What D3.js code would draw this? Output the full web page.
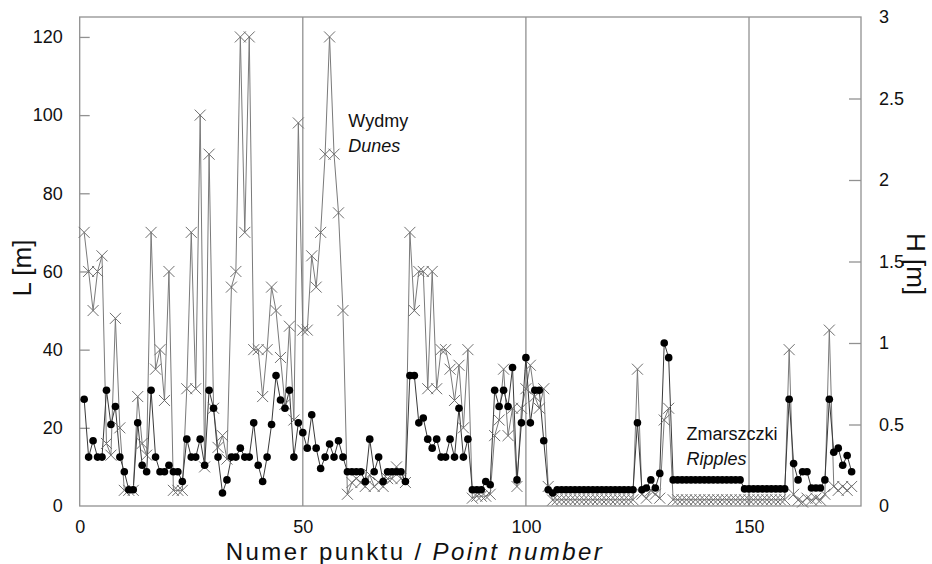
<!DOCTYPE html>
<html>
<head>
<meta charset="utf-8">
<script src="https://cdn.jsdelivr.net/npm/d3@7"></script>
<style>
  body { margin: 0; background: #fff; }
  svg { font-family: "Liberation Sans", Arial, sans-serif; }
</style>
</head>
<body>
<svg id="chart" width="932" height="564"></svg>
<script>
// point numbers 1..173, L [m] (crosses, left axis) and H [m] (dots, right axis)
var L_values = [
  70, 60, 50, 60, 64, 16, 13, 48, 20, 4,
  4, 4, 28, 16, 13, 70, 35, 40, 27, 60,
  4, 4, 4, 30, 70, 30, 100, 10, 90, 25,
  15, 18, 12, 56, 60, 120, 70, 120, 40, 40,
  28, 40, 56, 50, 38, 26, 46, 22, 98, 45,
  45, 64, 56, 70, 90, 120, 90, 75, 50, 3,
  6, 7, 6, 5, 8, 5, 6, 5, 7, 7,
  10, 7, 6, 70, 50, 60, 60, 30, 60, 30,
  40, 40, 35, 27, 36, 20, 40, 2, 2.5, 2.5,
  2.5, 3, 18, 22, 35, 18, 25, 5, 25, 30,
  36, 28, 25, 30, 5, 1.5, 1.6, 1.6, 1.6, 1.6,
  1.6, 1.6, 1.6, 1.6, 1.6, 1.6, 1.6, 1.6, 1.6, 1.6,
  1.6, 1.6, 1.6, 1.6, 35, 3, 2, 4, 3, 2,
  22, 25, 1.6, 1.6, 1.6, 1.6, 1.6, 1.6, 1.6, 1.6,
  1.6, 1.6, 1.6, 1.6, 1.6, 1.6, 1.6, 1.6, 1.6, 1.6,
  1.6, 1.6, 1.6, 1.6, 1.6, 1.6, 1.6, 1.6, 40, 3,
  1.5, 1, 2, 1.5, 2, 1.5, 3, 45, 5, 4,
  5, 4, 5
];

var H_values = [
  0.655, 0.30, 0.40, 0.30, 0.30, 0.71, 0.50, 0.61, 0.30, 0.21,
  0.10, 0.10, 0.51, 0.25, 0.21, 0.71, 0.30, 0.21, 0.21, 0.25,
  0.21, 0.21, 0.15, 0.41, 0.30, 0.30, 0.41, 0.25, 0.71, 0.60,
  0.30, 0.08, 0.16, 0.30, 0.30, 0.355, 0.30, 0.30, 0.51, 0.25,
  0.15, 0.30, 0.50, 0.80, 0.65, 0.60, 0.71, 0.30, 0.51, 0.45,
  0.355, 0.56, 0.355, 0.23, 0.30, 0.38, 0.30, 0.40, 0.30, 0.21,
  0.21, 0.21, 0.21, 0.15, 0.41, 0.21, 0.30, 0.15, 0.21, 0.21,
  0.21, 0.21, 0.15, 0.80, 0.80, 0.51, 0.54, 0.41, 0.355, 0.41,
  0.30, 0.30, 0.41, 0.30, 0.60, 0.30, 0.41, 0.10, 0.10, 0.10,
  0.15, 0.13, 0.71, 0.61, 0.71, 0.61, 0.85, 0.16, 0.51, 0.91,
  0.51, 0.71, 0.71, 0.40, 0.10, 0.08, 0.10, 0.10, 0.10, 0.10,
  0.10, 0.10, 0.10, 0.10, 0.10, 0.10, 0.10, 0.10, 0.10, 0.10,
  0.10, 0.10, 0.10, 0.10, 0.51, 0.10, 0.11, 0.16, 0.11, 0.20,
  1.00, 0.91, 0.16, 0.16, 0.16, 0.16, 0.16, 0.16, 0.16, 0.16,
  0.16, 0.16, 0.16, 0.16, 0.16, 0.16, 0.16, 0.16, 0.105, 0.105,
  0.105, 0.105, 0.105, 0.105, 0.105, 0.105, 0.105, 0.105, 0.655, 0.26,
  0.16, 0.21, 0.21, 0.11, 0.11, 0.11, 0.16, 0.655, 0.33, 0.355,
  0.25, 0.31, 0.21
];

var point_numbers = d3.range(1, L_values.length + 1);

var x_ticks = [0, 50, 100, 150];
var divider_lines = [50, 100, 150];
var L_ticks = [0, 20, 40, 60, 80, 100, 120];
var H_ticks = [0, 0.5, 1, 1.5, 2, 2.5, 3];
var H_tick_labels = ["0", "0.5", "1", "1.5", "2", "2.5", "3"];

var labels = [
  {point: 60.2, level: 97, lines: ["Wydmy", "Dunes"]},
  {point: 136, level: 17, lines: ["Zmarszczki", "Ripples"]}
];

var svg = d3.select("#chart");
const plot = {left: 79.7, right: 861, top: 17, bottom: 506};

var xScale = d3.scaleLinear().domain([0, 175.1]).range([plot.left, plot.right]);
var yL = d3.scaleLinear().domain([0, 125.1]).range([plot.bottom, plot.top]);
var yH = d3.scaleLinear().domain([0, 3]).range([plot.bottom, plot.top]);

var frameColor = "#919191";

// frame
svg.append("rect")
    .attr("x", plot.left).attr("y", plot.top)
    .attr("width", plot.right - plot.left).attr("height", plot.bottom - plot.top)
    .attr("fill", "none").attr("stroke", frameColor).attr("stroke-width", 1.3);

// divider lines
svg.selectAll("line.divider")
    .data(divider_lines).enter()
    .append("line").attr("class", "divider")
    .attr("x1", d => xScale(d)).attr("x2", d => xScale(d))
    .attr("y1", plot.top).attr("y2", plot.bottom)
    .attr("stroke", frameColor).attr("stroke-width", 1.3);

// axes, ticks pointing inward
var leftAxis = d3.axisLeft(yL).tickValues(L_ticks).tickSizeInner(-10).tickSizeOuter(0).tickPadding(17);
var gL = svg.append("g").attr("transform", "translate(" + plot.left + ",0)").call(leftAxis);

var rightAxis = d3.axisRight(yH).tickValues(H_ticks).tickFormat((d, i) => H_tick_labels[i])
    .tickSizeInner(-12).tickSizeOuter(0).tickPadding(18);
var gR = svg.append("g").attr("transform", "translate(" + plot.right + ",0)").call(rightAxis);

var bottomAxis = d3.axisBottom(xScale).tickValues(x_ticks).tickSize(0).tickPadding(14);
var gB = svg.append("g").attr("transform", "translate(0," + plot.bottom + ")").call(bottomAxis);

[gL, gR, gB].forEach(function(g) {
    g.select(".domain").remove();
    g.selectAll(".tick line").attr("stroke", frameColor).attr("stroke-width", 1.3);
    g.selectAll(".tick text").attr("font-size", 18).attr("fill", "#111")
        .attr("font-family", "'Liberation Sans', Arial, sans-serif");
});
gL.selectAll(".tick").filter(d => d == 0).select("line").remove();
gR.selectAll(".tick").filter(d => d == 0 || d == 3).select("line").remove();

// axis titles
svg.append("text")
    .attr("transform", "translate(31," + 268 + ") rotate(-90)")
    .attr("text-anchor", "middle").attr("font-size", 26).attr("fill", "#111")
    .text("L [m]");

svg.append("text")
    .attr("transform", "translate(907," + 264 + ") rotate(90)")
    .attr("text-anchor", "middle").attr("font-size", 26).attr("fill", "#111")
    .text("H [m]");

var xTitle = svg.append("text")
    .attr("x", 415).attr("y", 560)
    .attr("text-anchor", "middle").attr("font-size", 24)
    .attr("letter-spacing", 2.4).attr("fill", "#111");
xTitle.append("tspan").text("Numer punktu / ");
xTitle.append("tspan").attr("font-style", "italic").text("Point number");

// L series
var lineL = d3.line().x((d, i) => xScale(point_numbers[i])).y(d => yL(d));
svg.append("path")
    .datum(L_values)
    .attr("fill", "none").attr("stroke", "#7a7a7a").attr("stroke-width", 1)
    .attr("d", lineL);

// H series line
var lineH = d3.line().x((d, i) => xScale(point_numbers[i])).y(d => yH(d));
svg.append("path")
    .datum(H_values)
    .attr("fill", "none").attr("stroke", "#3a3a3a").attr("stroke-width", 1)
    .attr("d", lineH);

// crosses
var crossSize = 5.5;
svg.append("g").selectAll("path.cross")
    .data(L_values).enter()
    .append("path").attr("class", "cross")
    .attr("d", function(d, i) {
        var cx = xScale(point_numbers[i]), cy = yL(d);
        return "M" + (cx - crossSize) + "," + (cy - crossSize) + "L" + (cx + crossSize) + "," + (cy + crossSize) +
            "M" + (cx - crossSize) + "," + (cy + crossSize) + "L" + (cx + crossSize) + "," + (cy - crossSize);
    })
    .attr("stroke", "#6e6e6e").attr("stroke-width", 1).attr("fill", "none");

// dots
svg.append("g").selectAll("circle.dot")
    .data(H_values).enter()
    .append("circle").attr("class", "dot")
    .attr("cx", (d, i) => xScale(point_numbers[i]))
    .attr("cy", d => yH(d))
    .attr("r", 3.8)
    .attr("fill", "#000");

// region labels
labels.forEach(function(lab) {
    var t = svg.append("text")
        .attr("x", xScale(lab.point)).attr("y", yL(lab.level))
        .attr("font-size", 18).attr("fill", "#111");
    t.append("tspan").text(lab.lines[0]);
    t.append("tspan").attr("x", xScale(lab.point)).attr("dy", 25)
        .attr("font-style", "italic").text(lab.lines[1]);
});
</script>
</body>
</html>
